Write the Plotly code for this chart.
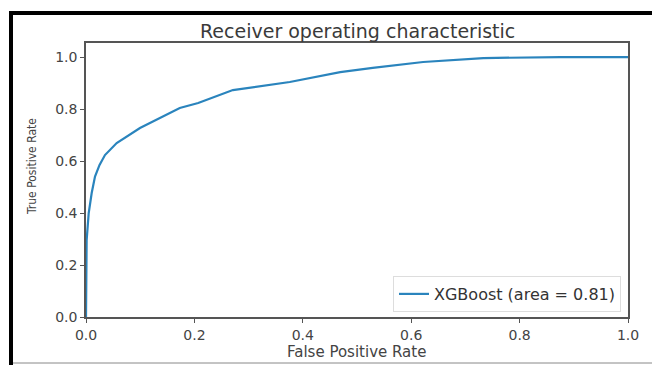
import plotly.graph_objects as go

# ROC curve points
fpr = [0.0, 0.0, 0.0012, 0.005, 0.0105, 0.0166, 0.025, 0.035, 0.0566, 0.0996, 0.1365,
       0.173, 0.207, 0.271, 0.376, 0.469, 0.529, 0.598, 0.622, 0.733, 0.875, 1.0]
tpr = [0.0, 0.11, 0.296, 0.40, 0.477, 0.54, 0.585, 0.623, 0.669, 0.727, 0.765,
       0.804, 0.823, 0.873, 0.904, 0.942, 0.958, 0.973, 0.981, 0.996, 1.0, 1.0]
series_name = "XGBoost (area = 0.81)"
tick_vals = [0.0, 0.2, 0.4, 0.6, 0.8, 1.0]
tick_text = ["0.0", "0.2", "0.4", "0.6", "0.8", "1.0"]

W, H = 652, 365
L, R, T, B = 86, 24, 43, 48
pw, ph = W - L - R, H - T - B

def px_x(p):
    return (p - L) / pw

def px_y(p):
    return (H - B - p) / ph

fig = go.Figure()
fig.add_trace(go.Scatter(x=fpr, y=tpr, mode="lines", name=series_name,
                         line=dict(color="#2a84bd", width=2.2)))

axis_common = dict(showgrid=False, zeroline=False, showline=True, linecolor="#555555",
                   linewidth=1.5, mirror=True, ticks="outside", ticklen=4, tickwidth=1,
                   tickcolor="#555555", tickfont=dict(family="DejaVu Sans", size=14, color="#444444"),
                   tickvals=tick_vals, ticktext=tick_text)

fig.update_layout(
    width=W, height=H,
    margin=dict(l=L, r=R, t=T, b=B),
    paper_bgcolor="white", plot_bgcolor="white",
    xaxis=dict(range=[0, 1.0], **axis_common),
    yaxis=dict(range=[0, 1.054], **axis_common),
    showlegend=True,
    legend=dict(x=px_x(621), y=px_y(312), xanchor="right", yanchor="bottom",
                bgcolor="white", bordercolor="#dddddd", borderwidth=1,
                font=dict(family="DejaVu Sans", size=16, color="#333333"),
                itemwidth=30, tracegroupgap=0),
)

fig.add_annotation(text="Receiver operating characteristic", xref="paper", yref="paper",
                   x=px_x(357), y=px_y(31), xanchor="center", yanchor="middle", showarrow=False,
                   font=dict(family="DejaVu Sans", size=19, color="#3a3a3a"))
fig.add_annotation(text="False Positive Rate", xref="paper", yref="paper",
                   x=px_x(356), y=px_y(352), xanchor="center", yanchor="middle", showarrow=False,
                   font=dict(family="DejaVu Sans", size=15, color="#444444"))
fig.add_annotation(text="True Positive Rate", xref="paper", yref="paper",
                   x=px_x(32), y=px_y(167), xanchor="center", yanchor="middle", showarrow=False,
                   textangle=-90,
                   font=dict(family="DejaVu Sans Condensed", size=12, color="#444444"))

# black screenshot border (top and left), gray bottom line
fig.add_shape(type="line", xref="paper", yref="paper", x0=px_x(9), x1=px_x(652),
              y0=px_y(13), y1=px_y(13), line=dict(color="black", width=4))
fig.add_shape(type="line", xref="paper", yref="paper", x0=px_x(11), x1=px_x(11),
              y0=px_y(11), y1=px_y(365), line=dict(color="black", width=4))
fig.add_shape(type="line", xref="paper", yref="paper", x0=px_x(13), x1=px_x(652),
              y0=px_y(363), y1=px_y(363), line=dict(color="#888888", width=1))

fig.write_html("out.html", config={"displayModeBar": False},
               post_script="document.body.style.margin='0';document.body.style.overflow='hidden';")
